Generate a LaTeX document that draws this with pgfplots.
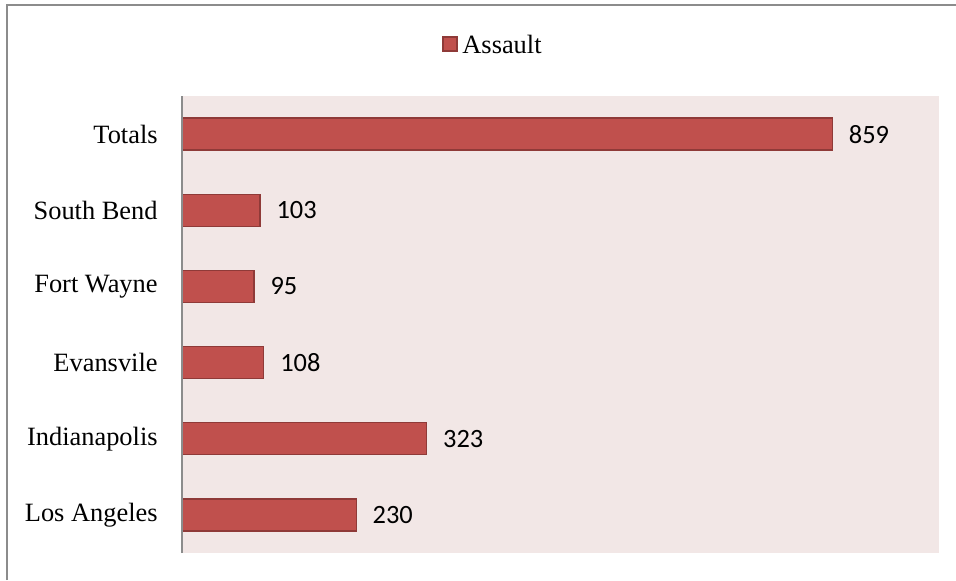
\documentclass[border=0pt]{standalone}
\usepackage{pgfplots}
\pgfplotsset{compat=1.18}
\usepackage{fontspec}
\newfontfamily\timesf{Liberation Serif}
\newfontfamily\calibri{Carlito}
\definecolor{barfill}{HTML}{C0504D}
\definecolor{baredge}{HTML}{8F3A38}
\definecolor{plotbg}{HTML}{F2E7E6}
\definecolor{framegray}{HTML}{8C8C8C}
\begin{document}
\timesf
\begin{tikzpicture}
\path[use as bounding box] (0,0) rectangle (478pt,290pt);
\draw[framegray, line width=0.9pt] (3.5pt,0) -- (3.5pt,287.5pt) -- (478pt,287.5pt);
\begin{axis}[
  at={(91pt,13.5pt)}, anchor=south west,
  scale only axis, width=378.5pt, height=228.5pt,
  xbar, bar width=16pt,
  xmin=0, xmax=1000,
  ymin=-0.5, ymax=5.5,
  ytick={0,1,2,3,4,5},
  yticklabels={Los Angeles, Indianapolis, Evansvile, Fort Wayne\ , South Bend, Totals},
  xtick=\empty,
  /pgf/number format/assume math mode=true,
  axis line style={draw=none},
  tick style={draw=none},
  major tick length=0pt,
  axis background/.style={fill=plotbg},
  yticklabel style={anchor=east, inner sep=0pt, xshift=-12pt, font=\timesf\fontsize{13.2}{15}\selectfont},
  nodes near coords={\calibri\fontsize{13.2}{15}\selectfont\pgfmathprintnumber{\pgfplotspointmeta}},
  nodes near coords style={anchor=west, inner sep=0pt, xshift=8pt, text=black},
  clip=false,
]
\addplot[fill=barfill, draw=baredge, line width=0.6pt] coordinates {
  (230,0) (323,1) (108,2) (95,3) (103,4) (859,5)
};
\draw[framegray, line width=0.8pt] (rel axis cs:0,0) -- (rel axis cs:0,1);
% legend
\draw[fill=barfill, draw=baredge, line width=0.6pt] (axis description cs:0.3448,1.0985) rectangle (axis description cs:0.3633,1.129);
\node[anchor=west, inner sep=0pt, font=\timesf\fontsize{13.2}{15}\selectfont] at (axis description cs:0.3699,1.1138) {Assault};
\end{axis}
\end{tikzpicture}
\end{document}
